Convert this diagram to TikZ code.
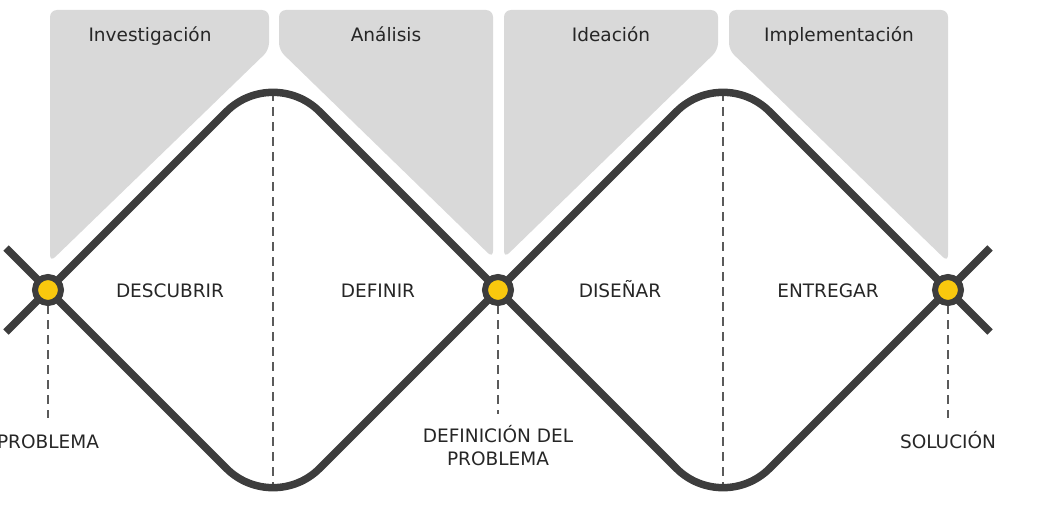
\documentclass[tikz,border=0pt]{standalone}
\usepackage{fontspec}
\setmainfont{DejaVu Sans}
\definecolor{linec}{HTML}{3D3D3D}
\definecolor{panelc}{HTML}{D9D9D9}
\definecolor{dotc}{HTML}{F9C80E}
\definecolor{txtc}{HTML}{262626}
\definecolor{dashc}{HTML}{5A5A5A}
\begin{document}
\begin{tikzpicture}[x=1pt,y=-1pt,
  panel/.style={fill=panelc, rounded corners=7pt},
  wave/.style={draw=linec, line width=7.5pt, rounded corners=66pt},
  arm/.style={draw=linec, line width=7.5pt},
  guide/.style={draw=dashc, line width=1.3pt, dash pattern=on 9pt off 6pt},
  dot/.style={circle, fill=dotc, draw=linec, line width=6pt, minimum size=26pt, inner sep=0pt},
  lbl/.style={text=txtc, font=\fontsize{18.5}{23}\selectfont, inner sep=0pt, anchor=base},
]
\useasboundingbox (0,0) rectangle (1061,527);
\clip (0,0) rectangle (1061,527);

% panels
\fill[panel] (50,10) -- (269,10) -- (269,50) -- (50,262) -- cycle;
\fill[panel] (279,10) -- (493,10) -- (493,258) -- (279,50) -- cycle;
\fill[panel] (504,10) -- (718,10) -- (718,50) -- (504,258) -- cycle;
\fill[panel] (729,10) -- (948,10) -- (948,262) -- (729,50) -- cycle;

\node[lbl] (pl1) at (150,42) {Investigación};
\node[lbl] (pl2) at (386,42) {Análisis};
\node[lbl] (pl3) at (611,42) {Ideación};
\node[lbl] (pl4) at (839,42) {Implementación};

% coordinates
\coordinate (n1) at (48,290);
\coordinate (n2) at (498,290);
\coordinate (n3) at (948,290);
\coordinate (t1) at (273,65);
\coordinate (t2) at (723,65);
\coordinate (b1) at (273,515);
\coordinate (b2) at (723,515);
\coordinate (a1) at (6,248);
\coordinate (a2) at (6,332);
\coordinate (a3) at (990,248);
\coordinate (a4) at (990,332);
\coordinate (g1t) at (273,92);
\coordinate (g1b) at (273,488);
\coordinate (g2t) at (723,92);
\coordinate (g2b) at (723,488);
\coordinate (d1) at (48,418);
\coordinate (d2) at (498,414);
\coordinate (d3) at (948,418);

% guides
\draw[guide] (g1t) -- (g1b);
\draw[guide] (g2t) -- (g2b);
\draw[guide] (n1) -- (d1);
\draw[guide] (n2) -- (d2);
\draw[guide] (n3) -- (d3);

% wave
\draw[wave] (n1) -- (t1) -- (n2);
\draw[wave] (n2) -- (t2) -- (n3);
\draw[wave] (n1) -- (b1) -- (n2);
\draw[wave] (n2) -- (b2) -- (n3);
\draw[arm] (a1) -- (n1);
\draw[arm] (a2) -- (n1);
\draw[arm] (n3) -- (a3);
\draw[arm] (n3) -- (a4);

% dots
\node[dot] (dot1) at (n1) {};
\node[dot] (dot2) at (n2) {};
\node[dot] (dot3) at (n3) {};

% phase labels
\node[lbl] (ph1) at (170,297) {DESCUBRIR};
\node[lbl] (ph2) at (378,297) {DEFINIR};
\node[lbl] (ph3) at (620,297) {DISEÑAR};
\node[lbl] (ph4) at (828,297) {ENTREGAR};

% bottom labels
\node[lbl] (bl1) at (48,448) {PROBLEMA};
\node[lbl, align=center] (bl2) at (498,465) {DEFINICIÓN DEL\\PROBLEMA};
\node[lbl] (bl3) at (948,448) {SOLUCIÓN};
\end{tikzpicture}
\end{document}
